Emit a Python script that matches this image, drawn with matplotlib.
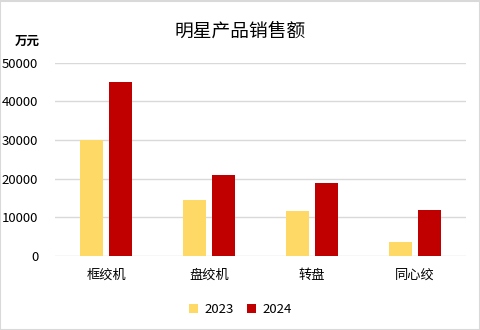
import numpy as np
import matplotlib
matplotlib.use("Agg")
import matplotlib.pyplot as plt
from matplotlib.patches import Rectangle

plt.rcParams['font.family'] = ['Noto Sans CJK SC', 'DejaVu Sans']

categories = ['框绞机', '盘绞机', '转盘', '同心绞']
series_names = ['2023', '2024']
sales_2023 = [30000, 14500, 11600, 3600]
sales_2024 = [45000, 21000, 18900, 11900]
colors = ['#FFD966', '#C00000']

fig = plt.figure(figsize=(4.81, 3.30), dpi=100)
ax = fig.add_axes([0.1143, 0.2242, 0.8546, 0.5858])

x = np.arange(len(categories))
w = 0.224
gap = 0.058
ax.bar(x - (w + gap) / 2, sales_2023, w, color=colors[0], label=series_names[0], zorder=3)
ax.bar(x + (w + gap) / 2, sales_2024, w, color=colors[1], label=series_names[1], zorder=3)

ax.set_xlim(-0.5, len(categories) - 0.5)
ax.set_ylim(0, 50000)
ax.set_yticks(np.arange(0, 50001, 10000))
ax.yaxis.grid(True, color='#D9D9D9', linewidth=1)
ax.set_axisbelow(True)
for s in ax.spines.values():
    s.set_visible(False)
ax.tick_params(axis='both', length=0, labelsize=9.5, colors='#000000')
ax.tick_params(axis='x', pad=9)
ax.tick_params(axis='y', pad=12)
ax.set_xticks(x)
ax.set_xticklabels(categories)

fig.text(0.5, 0.905, '明星产品销售额', ha='center', va='center', fontsize=13.5)
fig.text(0.056, 0.876, '万元', ha='center', va='center', fontsize=9, fontweight='bold')

ax.legend(loc='center', bbox_to_anchor=(0.5, 0.062), bbox_transform=fig.transFigure,
          ncol=2, frameon=False, fontsize=9.5, handlelength=0.7, handleheight=0.7,
          columnspacing=1.0, handletextpad=0.5)

fig.patches.append(Rectangle((0.001, 0.001), 0.997, 0.996, transform=fig.transFigure,
                             fill=False, edgecolor='#D9D9D9', linewidth=1.5))

fig.savefig('out.png', dpi=100)
